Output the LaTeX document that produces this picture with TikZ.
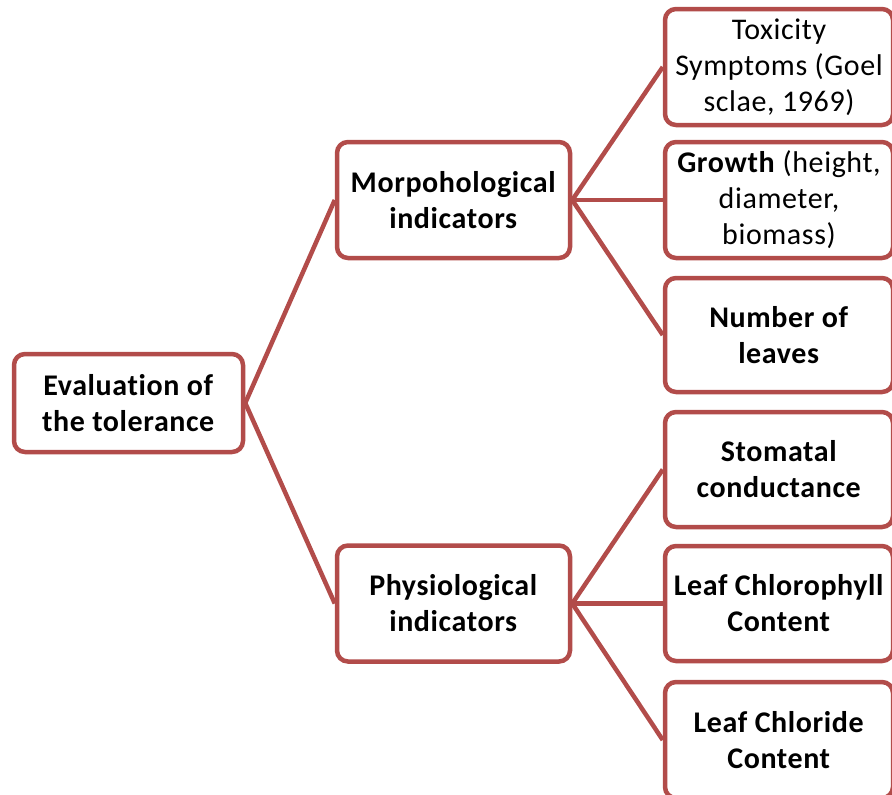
\documentclass[tikz,border=0pt]{standalone}
\usepackage{fontspec}
\setmainfont[Ligatures={NoCommon},LetterSpace=2.0]{Carlito}
\usepackage{xcolor}
\definecolor{boxred}{RGB}{178,76,74}

\begin{document}
\begin{tikzpicture}[x=1pt,y=-1pt,
	box/.style={draw=boxred, line width=4.5pt, rounded corners=11pt, fill=white, align=center, inner sep=0pt, font=\fontsize{30}{36}\selectfont},
	link/.style={draw=boxred, line width=4.5pt}]
	\useasboundingbox (0,0) rectangle (892,795);
	
	\node[box, minimum width=229pt, minimum height=98pt] (eval) at (128.5,403) {\textbf{Evaluation of}\\\textbf{the tolerance}};
	
	\node[box, minimum width=233pt, minimum height=116pt] (morph) at (453.5,200) {\textbf{Morpohological}\\\textbf{indicators}};
	\node[box, minimum width=233pt, minimum height=116pt] (phys) at (453.5,603.5) {\textbf{Physiological}\\\textbf{indicators}};
	
	\node[box, minimum width=228pt, minimum height=116pt] (toxic) at (779,67) {Toxicity\\Symptoms (Goel\\sclae, 1969)};
	\node[box, minimum width=228pt, minimum height=116pt] (growth) at (779,200) {\textbf{Growth} (height,\\diameter,\\biomass)};
	\node[box, minimum width=228pt, minimum height=114pt] (leaves) at (779,335) {\textbf{Number of}\\\textbf{leaves}};
	\node[box, minimum width=228pt, minimum height=115pt] (stomata) at (779,469.5) {\textbf{Stomatal}\\\textbf{conductance}};
	\node[box, minimum width=228pt, minimum height=115pt] (chloro) at (779,603.5) {\textbf{Leaf Chlorophyll}\\\textbf{Content}};
	\node[box, minimum width=228pt, minimum height=116pt] (chlorid) at (779,740) {\textbf{Leaf Chloride}\\\textbf{Content}};
	
	\draw[link] (eval.east) -- (morph.west);
	\draw[link] (eval.east) -- (phys.west);
	\draw[link] (morph.east) -- (toxic.west);
	\draw[link] (morph.east) -- (growth.west);
	\draw[link] (morph.east) -- (leaves.west);
	\draw[link] (phys.east) -- (stomata.west);
	\draw[link] (phys.east) -- (chloro.west);
	\draw[link] (phys.east) -- (chlorid.west);
\end{tikzpicture}
\end{document}
